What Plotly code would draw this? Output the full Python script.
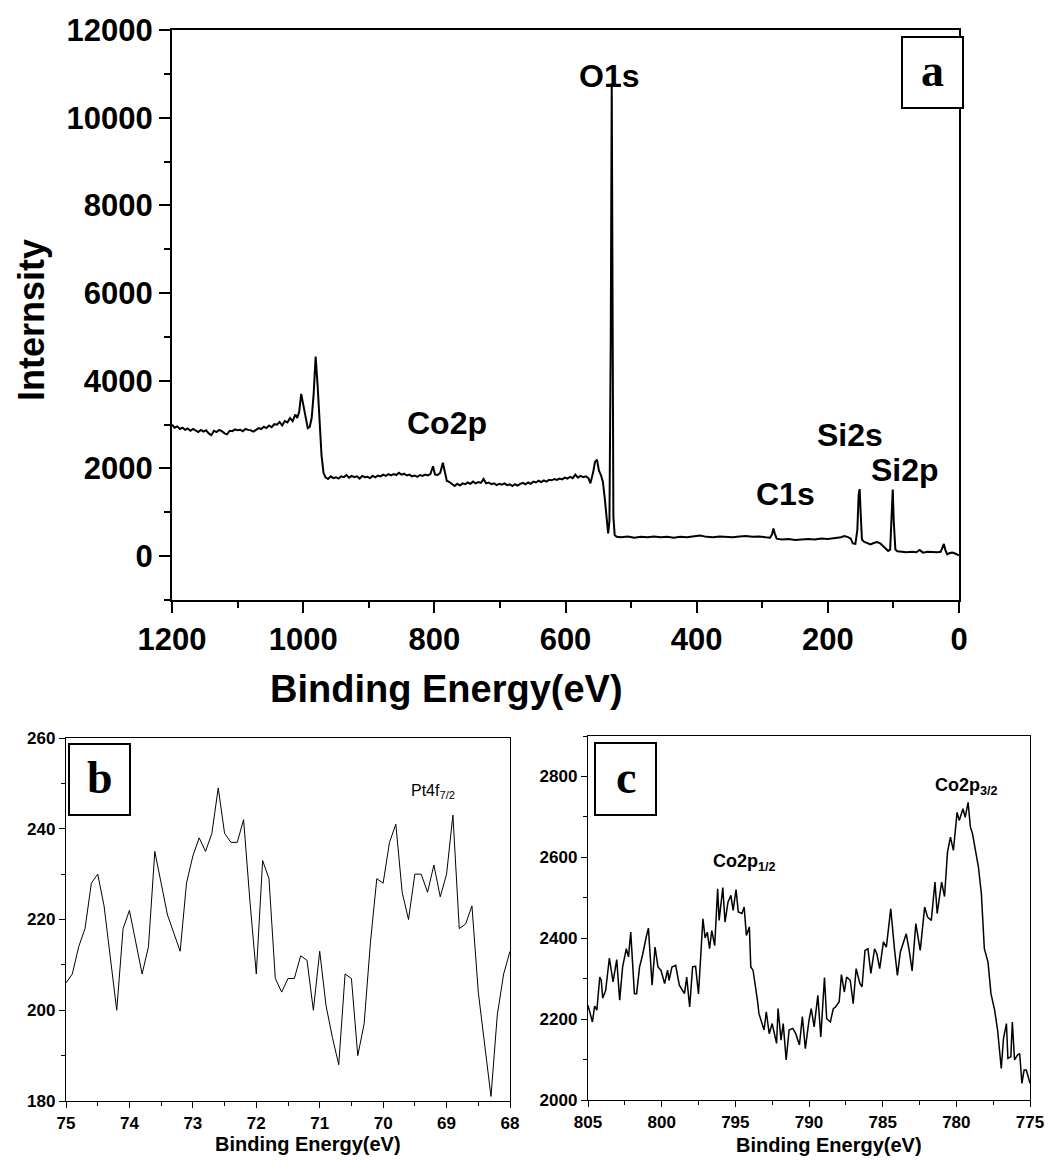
import plotly.graph_objects as go

# page body has an 8px margin; the figure is sized to fill the window exactly
OFF = 8
W, H = 1059 - 2 * OFF, 1171 - 2 * OFF

# ---------------- data ----------------
# Panel a: XPS survey spectrum (binding energy eV, intensity)
survey_be = [1200, 1196, 1192, 1188, 1184, 1180, 1176, 1172, 1168, 1164, 1160, 1156, 1152, 1148, 1144, 1140,
             1136, 1132, 1128, 1124, 1120, 1116, 1112, 1108, 1104, 1100, 1096, 1092, 1088, 1084, 1080, 1076,
             1072, 1068, 1064, 1060, 1056, 1052, 1048, 1044, 1040, 1036, 1032, 1028, 1024, 1020, 1016, 1012,
             1009, 1006, 1003, 1000, 997, 993, 990, 987, 984, 981, 978, 975, 972, 969, 966, 962, 958, 954,
             950, 946, 942, 938, 934, 930, 926, 922, 918, 914, 910, 906, 902, 898, 894, 890, 886, 882, 878,
             874, 870, 866, 862, 858, 854, 850, 846, 842, 838, 834, 830, 826, 822, 818, 814, 810, 806, 802,
             799, 795, 791, 787, 784, 781, 777, 773, 769, 765, 761, 757, 753, 749, 745, 741, 737, 733, 729,
             725, 721, 717, 713, 709, 705, 701, 697, 693, 689, 685, 681, 677, 673, 669, 665, 661, 657, 653,
             649, 645, 641, 637, 633, 629, 625, 621, 617, 613, 609, 605, 601, 597, 593, 589, 585, 581, 577,
             573, 569, 565, 562, 558, 555, 552, 549, 546, 543, 540, 537, 535, 533, 531, 529.5, 528.5, 527,
             525, 522, 515, 505, 495, 485, 475, 465, 455, 445, 435, 425, 415, 405, 395, 385, 375, 365, 355,
             345, 335, 325, 315, 305, 295, 288, 285, 283, 281, 278, 270, 260, 250, 240, 230, 220, 210, 200,
             190, 180, 175, 170, 165, 162, 158, 155, 153, 151.5, 150, 148, 145, 140, 135, 130, 125, 120, 116,
             112, 108, 105, 103, 101, 99.5, 97, 94, 88, 80, 72, 65, 60, 55, 48, 40, 33, 28, 25, 23, 21, 18,
             14, 10, 6, 3, 0]
survey_int = [3000, 2930, 2960, 2900, 2930, 2880, 2910, 2860, 2900, 2870, 2830, 2880, 2840, 2870, 2800, 2760,
              2860, 2830, 2880, 2850, 2800, 2780, 2860, 2850, 2890, 2870, 2880, 2850, 2900, 2880, 2870, 2840,
              2890, 2920, 2900, 2950, 2920, 2980, 2940, 3010, 3000, 3060, 2980, 3080, 3050, 3150, 3080, 3230,
              3150, 3300, 3700, 3450, 3200, 2920, 2950, 3150, 3700, 4550, 3900, 3200, 2300, 1900, 1800, 1760,
              1820, 1780, 1800, 1770, 1820, 1800, 1850, 1790, 1830, 1800, 1820, 1770, 1830, 1800, 1810, 1780,
              1830, 1800, 1840, 1820, 1860, 1830, 1870, 1840, 1870, 1850, 1900, 1860, 1880, 1840, 1860, 1820,
              1840, 1810, 1850, 1830, 1860, 1840, 1870, 2050, 1860, 1850, 1900, 2130, 1900, 1720, 1690, 1640,
              1600, 1650, 1610, 1660, 1640, 1680, 1650, 1700, 1660, 1690, 1670, 1760, 1660, 1680, 1640, 1660,
              1620, 1650, 1630, 1660, 1620, 1640, 1600, 1640, 1610, 1650, 1670, 1640, 1680, 1650, 1700, 1680,
              1720, 1690, 1730, 1700, 1740, 1730, 1760, 1740, 1770, 1750, 1790, 1770, 1810, 1780, 1860, 1790,
              1830, 1800, 1820, 1780, 1660, 1900, 2150, 2200, 1950, 1850, 1700, 1300, 700, 520, 800, 5000,
              10780, 6000, 900, 480, 440, 430, 450, 420, 440, 430, 450, 430, 440, 420, 440, 430, 450, 470,
              440, 430, 450, 440, 430, 450, 460, 440, 450, 430, 420, 500, 630, 520, 400, 380, 390, 370, 380,
              390, 380, 400, 390, 410, 430, 460, 440, 400, 290, 280, 600, 1400, 1530, 1000, 380, 330, 300,
              270, 300, 320, 290, 240, 170, 120, 150, 700, 1520, 800, 150, 110, 100, 90, 100, 90, 140, 80,
              100, 90, 90, 100, 200, 280, 150, 40, 70, 80, 60, 30, 20]

# Panel b: Pt4f region, 0.1 eV steps from 75.0 down to 68.0
pt_start_be = 75.0
pt_step_be = -0.1
pt_int = [206, 208, 214, 218, 228, 230, 223, 211, 200, 218, 222, 215, 208, 214, 235, 228, 221, 217, 213,
          228, 234, 238, 235, 239, 249, 239, 237, 237, 242, 224, 208, 233, 229, 207, 204, 207, 207, 212,
          211, 200, 213, 201, 194, 188, 208, 207, 190, 197, 215, 229, 228, 237, 241, 226, 220, 230, 230,
          226, 232, 225, 230, 243, 218, 219, 223, 204, 193, 181, 199, 208, 213]

# Panel c: Co2p region
co_be = [805.0, 804.85, 804.7, 804.55, 804.4, 804.2, 804.1, 804.0, 803.8, 803.55, 803.3, 803.05, 802.85,
         802.65, 802.4, 802.25, 802.1, 801.85, 801.7, 801.5, 801.3, 801.05, 800.9, 800.65, 800.45, 800.25,
         800.05, 799.8, 799.6, 799.5, 799.3, 799.05, 798.8, 798.45, 798.3, 798.1, 797.9, 797.7, 797.5,
         797.2, 797.05, 796.9, 796.75, 796.6, 796.4, 796.2, 796.1, 795.85, 795.7, 795.5, 795.3, 795.15,
         794.95, 794.8, 794.55, 794.4, 794.25, 794.05, 793.95, 793.8, 793.65, 793.5, 793.4, 793.2, 793.05,
         792.9, 792.7, 792.5, 792.2, 792.1, 791.9, 791.75, 791.55, 791.35, 791.1, 790.9, 790.65, 790.45,
         790.25, 790.0, 789.85, 789.65, 789.4, 789.2, 788.95, 788.8, 788.55, 788.35, 788.2, 787.95, 787.8,
         787.6, 787.45, 787.2, 787.0, 786.8, 786.55, 786.4, 786.2, 786.0, 785.8, 785.55, 785.4, 785.2,
         784.95, 784.75, 784.45, 784.2, 784.0, 783.8, 783.55, 783.4, 783.2, 783.0, 782.75, 782.45, 782.15,
         781.95, 781.7, 781.45, 781.3, 781.0, 780.8, 780.6, 780.4, 780.2, 779.95, 779.8, 779.55, 779.4,
         779.2, 779.05, 778.9, 778.65, 778.5, 778.3, 778.1, 777.85, 777.65, 777.4, 777.2, 776.95, 776.8,
         776.6, 776.5, 776.3, 776.2, 776.05, 775.85, 775.7, 775.55, 775.4, 775.25, 775.0]
co_int = [2234, 2214, 2193, 2232, 2222, 2304, 2296, 2252, 2271, 2351, 2292, 2347, 2247, 2329, 2374, 2354,
          2415, 2263, 2263, 2329, 2358, 2403, 2425, 2284, 2378, 2329, 2321, 2288, 2321, 2296, 2329, 2333,
          2284, 2263, 2304, 2230, 2329, 2331, 2262, 2448, 2401, 2415, 2374, 2419, 2382, 2522, 2444, 2525,
          2440, 2489, 2506, 2469, 2520, 2465, 2461, 2477, 2407, 2428, 2329, 2321, 2288, 2247, 2214, 2193,
          2173, 2218, 2164, 2189, 2140, 2226, 2148, 2189, 2099, 2173, 2177, 2164, 2136, 2206, 2127, 2197,
          2226, 2181, 2259, 2156, 2303, 2201, 2193, 2226, 2230, 2243, 2310, 2267, 2304, 2296, 2238, 2325,
          2288, 2280, 2370, 2374, 2313, 2374, 2362, 2325, 2391, 2378, 2473, 2374, 2308, 2366, 2395, 2411,
          2370, 2319, 2436, 2370, 2477, 2452, 2444, 2539, 2461, 2539, 2503, 2613, 2650, 2617, 2711, 2691,
          2720, 2699, 2736, 2676, 2658, 2604, 2576, 2510, 2374, 2341, 2263, 2222, 2173, 2078, 2152, 2189,
          2103, 2107, 2193, 2099, 2111, 2115, 2041, 2074, 2074, 2041]

# tick labels
survey_yticks = [0, 2000, 4000, 6000, 8000, 10000, 12000]
co_yticks = [2000, 2200, 2400, 2600, 2800]

# ---------------- layout helpers (window pixel -> paper) ----------------
def px(x):
    return (x - OFF) / W


def py(y):
    return 1 - (y - OFF) / H


FONT = "Liberation Sans, Arial, sans-serif"
SERIF = "Liberation Serif, Times New Roman, serif"

fig = go.Figure()
fig.add_trace(go.Scatter(x=survey_be, y=survey_int, mode="lines",
                         line=dict(color="black", width=2), xaxis="x", yaxis="y"))
fig.add_trace(go.Scatter(y=pt_int, x0=pt_start_be, dx=pt_step_be, mode="lines",
                         line=dict(color="black", width=1), xaxis="x2", yaxis="y2"))
fig.add_trace(go.Scatter(x=co_be, y=co_int, mode="lines",
                         line=dict(color="black", width=1.5), xaxis="x3", yaxis="y3"))


def ax(domain, rng, dtick, minor_dtick, anchor, size, ticklen, minorlen, lw, tick0=None):
    d = dict(domain=domain, range=rng, dtick=dtick, showgrid=False, zeroline=False,
             showline=True, linecolor="black", linewidth=lw, mirror=True,
             ticks="outside", ticklen=ticklen, tickwidth=lw, tickcolor="black",
             tickfont=dict(family=FONT, size=size, color="black", weight="bold"),
             tickformat="d", automargin=False,
             minor=dict(dtick=minor_dtick, ticks="outside", ticklen=minorlen, tickwidth=lw,
                        tickcolor="black", showgrid=False),
             anchor=anchor, fixedrange=True)
    if tick0 is not None:
        d["tick0"] = tick0
    return d


layout = dict(
    width=W, height=H, margin=dict(l=0, r=0, t=0, b=0),
    paper_bgcolor="white", plot_bgcolor="white", showlegend=False,
    xaxis=ax([px(172), px(959)], [1200, 0], 200, 100, "y", 31, 11, 6, 2),
    yaxis=ax([py(600), py(30)], [-1000, 12000], 2000, 1000, "x", 31, 11, 6, 2, tick0=0),
    xaxis2=ax([px(66), px(510)], [75, 68], 1, 0.5, "y2", 17, 6, 4, 1.3),
    yaxis2=ax([py(1101), py(738)], [180, 260], 20, 10, "x2", 17, 6, 4, 1.3),
    xaxis3=ax([px(588), px(1030)], [805, 775], 5, 2.5, "y3", 17, 6, 4, 1.3),
    yaxis3=ax([py(1100), py(736)], [2000, 2900], 200, 100, "x3", 17, 6, 4, 1.3, tick0=2000),
)
layout["yaxis3"]["tickvals"] = co_yticks
layout["yaxis"]["tickvals"] = survey_yticks
fig.update_layout(**layout)


def note(text, x, y, size, bold=True, family=FONT, xanchor="center"):
    fig.add_annotation(text=text, x=px(x), y=py(y), xref="paper", yref="paper",
                       showarrow=False, xanchor=xanchor, yanchor="middle",
                       font=dict(family=family, size=size, color="black",
                                 weight="bold" if bold else "normal"))


# panel a labels
note("Binding Energy(eV)", 446, 689, 38)
fig.add_annotation(text="Internsity", x=px(31), y=py(320), xref="paper", yref="paper",
                   showarrow=False, textangle=-90, xanchor="center", yanchor="middle",
                   font=dict(family=FONT, size=36, color="black", weight="bold"))
note("O1s", 609, 76, 32)
note("Co2p", 447, 423, 32)
note("C1s", 785, 494, 32)
note("Si2s", 850, 435, 32)
note("Si2p", 905, 470, 32)

# panel b / c labels
note("Binding Energy(eV)", 308, 1144, 20)
note("Binding Energy(eV)", 829, 1145, 20)
note("Pt4f<sub>7/2</sub>", 433, 791, 16, bold=False)
note("Co2p<sub>1/2</sub>", 744, 862, 18)
note("Co2p<sub>3/2</sub>", 966, 786, 18)

# boxed panel letters
for letter, (x0, y0, x1, y1) in {"a": (902, 37, 963, 108), "b": (69, 744, 130, 815),
                                 "c": (595, 743, 656, 815)}.items():
    fig.add_shape(type="rect", xref="paper", yref="paper", x0=px(x0), x1=px(x1),
                  y0=py(y1), y1=py(y0), line=dict(color="black", width=2),
                  fillcolor="white", layer="above")
    note(letter, (x0 + x1) / 2, (y0 + y1) / 2 - 2, 46, family=SERIF)

fig.write_html("out.html")
